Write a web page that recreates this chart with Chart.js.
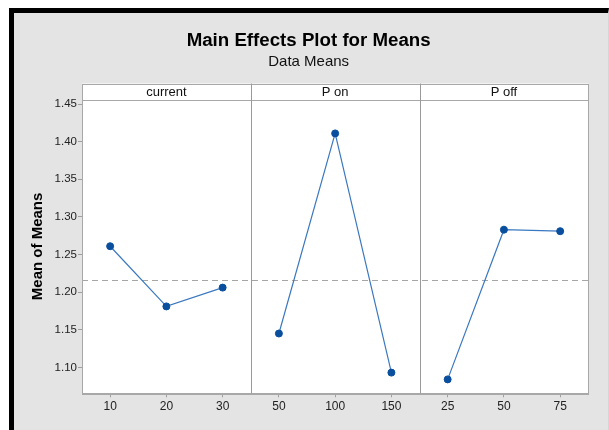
<!DOCTYPE html>
<html>
<head>
<meta charset="utf-8">
<script src="https://cdn.jsdelivr.net/npm/chart.js@4.4.1/dist/chart.umd.min.js"></script>
<style>
  html, body { margin: 0; padding: 0; background: #ffffff; width: 609px; height: 430px; overflow: hidden; }
  #frame { position: absolute; left: 9px; top: 8px; width: 594px; height: 430px;
           border-top: 5px solid #000; border-left: 5px solid #000; border-right: 1px solid #d6d6d6;
           background: #e4e4e4; }
  #wrap { position: absolute; left: 0; top: 0; width: 609px; height: 430px; }
</style>
</head>
<body>
<div id="frame"></div>
<div id="wrap"><canvas id="c" width="609" height="430"></canvas></div>
<script>
// ---- data ----
const panelNames = ["current", "P on", "P off"];
const currentLevels = ["10", "20", "30"];
const pOnLevels = ["50", "100", "150"];
const pOffLevels = ["25", "50", "75"];
const currentMeans = [1.261, 1.181, 1.206];
const pOnMeans = [1.145, 1.411, 1.093];
const pOffMeans = [1.084, 1.283, 1.281];
const grandMean = 1.2167;
const yTicks = [1.10, 1.15, 1.20, 1.25, 1.30, 1.35, 1.40, 1.45];
const yMin = 1.0655, yMax = 1.456;

const xLabels = [...currentLevels, ...pOnLevels, ...pOffLevels];
const groups = [currentMeans, pOnMeans, pOffMeans];
function padSeries(idx) {
  const out = new Array(xLabels.length).fill(null);
  groups[idx].forEach((v, i) => { out[idx * 3 + i] = v; });
  return out;
}

const lineColor = '#3a78c0';
const markColor = '#0a4f9e';
const frameGray = '#a8a8a8';
const headerTop = 83.5;

const panelPlugin = {
  id: 'panels',
  beforeDraw(chart) {
    const { ctx, chartArea: a } = chart;
    ctx.save();
    ctx.fillStyle = '#ffffff';
    ctx.fillRect(a.left, headerTop, a.right - a.left, a.bottom - headerTop);
    ctx.restore();
  },
  beforeDatasetsDraw(chart) {
    const { ctx, chartArea: a, scales: { y } } = chart;
    ctx.save();
    const gy = y.getPixelForValue(grandMean);
    ctx.strokeStyle = '#a6a6a6';
    ctx.lineWidth = 1;
    ctx.setLineDash([6, 4]);
    ctx.beginPath();
    ctx.moveTo(a.left, Math.round(gy) + 0.5);
    ctx.lineTo(a.right, Math.round(gy) + 0.5);
    ctx.stroke();
    ctx.restore();
  },
  afterDraw(chart) {
    const { ctx, chartArea: a, scales: { x } } = chart;
    ctx.save();
    ctx.strokeStyle = frameGray;
    ctx.lineWidth = 1;
    ctx.strokeRect(Math.round(a.left) + 0.5, Math.round(headerTop) + 0.5,
                   Math.round(a.right - a.left), Math.round(a.top - headerTop));
    ctx.strokeRect(Math.round(a.left) + 0.5, Math.round(a.top) + 0.5,
                   Math.round(a.right - a.left), Math.round(a.bottom - a.top));
    const bounds = [a.left];
    for (let k = 1; k < panelNames.length; k++) {
      const bx = (x.getPixelForValue(k * 3 - 1) + x.getPixelForValue(k * 3)) / 2;
      bounds.push(bx);
      ctx.strokeStyle = '#9a9a9a';
      ctx.beginPath();
      ctx.moveTo(Math.round(bx) + 0.5, headerTop);
      ctx.lineTo(Math.round(bx) + 0.5, a.bottom);
      ctx.stroke();
    }
    bounds.push(a.right);
    ctx.fillStyle = '#111';
    ctx.font = '13px "Liberation Sans", Arial, sans-serif';
    ctx.textAlign = 'center';
    ctx.textBaseline = 'middle';
    panelNames.forEach((n, i) => {
      ctx.fillText(n, (bounds[i] + bounds[i + 1]) / 2, (headerTop + a.top) / 2 + 0.5);
    });
    ctx.restore();
  }
};

const datasets = panelNames.map((n, i) => ({
  label: n,
  data: padSeries(i),
  borderColor: lineColor,
  borderWidth: 1.2,
  pointRadius: 3.5,
  pointHoverRadius: 3.5,
  pointBackgroundColor: markColor,
  pointBorderColor: markColor,
  pointBorderWidth: 1,
  spanGaps: false,
  tension: 0
}));

new Chart(document.getElementById('c'), {
  type: 'line',
  data: { labels: xLabels, datasets },
  plugins: [panelPlugin],
  options: {
    responsive: false,
    animation: false,
    events: [],
    layout: { padding: { left: 29, right: 20.7, top: 20, bottom: 16.7 } },
    plugins: {
      legend: { display: false },
      tooltip: { enabled: false },
      title: {
        display: true,
        text: 'Main Effects Plot for Means',
        color: '#000',
        font: { family: '"Liberation Sans", Arial, sans-serif', size: 18.7, weight: 'bold', lineHeight: 1.2 },
        padding: { top: 9.3, bottom: 0 }
      },
      subtitle: {
        display: true,
        text: 'Data Means',
        color: '#111',
        font: { family: '"Liberation Sans", Arial, sans-serif', size: 15, weight: 'normal', lineHeight: 1.2 },
        padding: { top: 1.5, bottom: 28.3 }
      }
    },
    scales: {
      x: {
        type: 'category',
        offset: true,
        afterFit(s) { s.height = 20; },
        grid: { display: true, drawOnChartArea: false, drawTicks: true, tickLength: 4, color: '#a0a0a0', offset: false },
        border: { display: true, color: frameGray },
        ticks: {
          color: '#222',
          padding: 2,
          maxRotation: 0,
          autoSkip: false,
          font: { family: '"Liberation Sans", Arial, sans-serif', size: 12 }
        }
      },
      y: {
        min: yMin,
        max: yMax,
        afterFit(s) { s.width = 53; },
        afterBuildTicks(s) { s.ticks = yTicks.map(v => ({ value: v })); },
        grid: { display: true, drawOnChartArea: false, drawTicks: true, tickLength: 4, color: '#a0a0a0' },
        border: { display: true, color: frameGray },
        ticks: {
          color: '#222',
          padding: 1,
          font: { family: '"Liberation Sans", Arial, sans-serif', size: 11.5 },
          callback: v => Number(v).toFixed(2)
        },
        title: {
          display: true,
          text: 'Mean of Means',
          color: '#000',
          font: { family: '"Liberation Sans", Arial, sans-serif', size: 15, weight: 'bold', lineHeight: 1.2 },
          padding: { top: 0, bottom: 0 }
        }
      }
    }
  }
});
</script>
</body>
</html>
